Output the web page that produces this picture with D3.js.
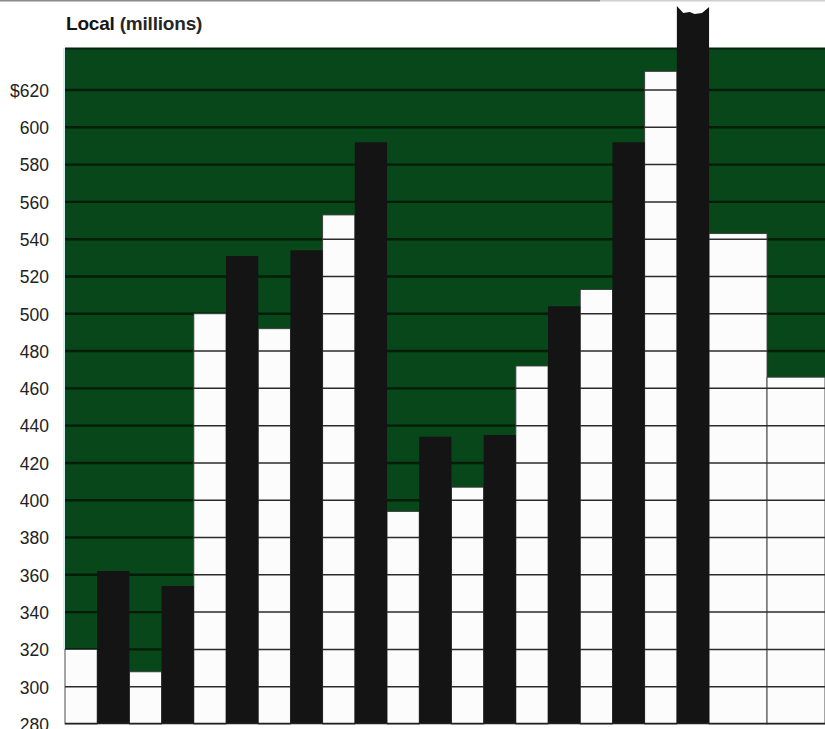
<!DOCTYPE html>
<html>
<head>
<meta charset="utf-8">
<script src="https://cdn.jsdelivr.net/npm/d3@7/dist/d3.min.js"></script>
<style>
  html, body { margin: 0; padding: 0; background: #fff; }
  svg { display: block; }
  text { font-family: "Liberation Sans", Arial, Helvetica, sans-serif; }
</style>
</head>
<body>
<svg id="chart" width="825" height="729"></svg>
<script>
// Twelve periods; the first ten pair a white bar with a black bar.
const periods = ["P1","P2","P3","P4","P5","P6","P7","P8","P9","P10","P11","P12"];
const whiteValues = [320, 308, 500, 492, 553, 394, 407, 472, 513, 630, 543, 466];
const blackValues = [362, 354, 531, 534, 592, 434, 435, 504, 592, 665, null, null];
const brokenBar = "P10";            // black bar that runs off the top of the scale
const tickValues = d3.range(280, 621, 20);
const title = ["Local", " (millions)"];

const svg = d3.select("#chart");
const W = 825, H = 729;
const plot = { left: 65, right: 825, top: 48 };

// Slot layout: a paired period takes two unit slots, a single one a wider slot.
const singleWidth = 1.8;
const slots = [];
let pos = 0;
periods.forEach((p, i) => {
  if (blackValues[i] != null) {
    slots.push({ period: p, kind: "white", value: whiteValues[i], x0: pos, x1: pos + 1 });
    slots.push({ period: p, kind: "black", value: blackValues[i], x0: pos + 1, x1: pos + 2 });
    pos += 2;
  } else {
    slots.push({ period: p, kind: "white", value: whiteValues[i], x0: pos, x1: pos + singleWidth });
    pos += singleWidth;
  }
});

const x = d3.scaleLinear().domain([0, pos]).range([plot.left, plot.right]);
const y = d3.scaleLinear().domain([280, 620]).range([724, 90]);
const baseY = y(280);

// faint rule along the top edge of the page
svg.append("line").attr("x1", 0).attr("x2", 600).attr("y1", 0.8).attr("y2", 0.8)
  .attr("stroke", "#8a8a8a").attr("stroke-width", 1.6);
svg.append("line").attr("x1", 600).attr("x2", W).attr("y1", 0.8).attr("y2", 0.8)
  .attr("stroke", "#cfcfcf").attr("stroke-width", 1.6);

// title
const t = svg.append("text").attr("x", 66).attr("y", 29.5)
  .attr("font-size", 19).attr("font-weight", "bold").attr("fill", "#141414")
  .attr("letter-spacing", "-0.2");
t.append("tspan").text(title[0]);
t.append("tspan").text(title[1]).attr("fill", "#262626");

// green plot field
svg.append("rect")
  .attr("x", plot.left).attr("y", plot.top)
  .attr("width", plot.right - plot.left).attr("height", baseY - plot.top)
  .attr("fill", "#08471a");
svg.append("line").attr("x1", plot.left).attr("x2", plot.right)
  .attr("y1", plot.top + 0.5).attr("y2", plot.top + 0.5)
  .attr("stroke", "#04240c").attr("stroke-width", 2);
svg.append("line").attr("x1", plot.left - 1).attr("x2", plot.left - 1)
  .attr("y1", plot.top).attr("y2", y(320))
  .attr("stroke", "#d6f0f2").attr("stroke-width", 2);

// grid lines on the green field
const gridVals = tickValues.filter(v => v > 280);
svg.append("g").selectAll("line").data(gridVals).join("line")
  .attr("x1", plot.left).attr("x2", plot.right)
  .attr("y1", d => y(d)).attr("y2", d => y(d))
  .attr("stroke", "#031d09").attr("stroke-width", 2.4);

// white bars
const whites = slots.filter(s => s.kind === "white");
svg.append("g").selectAll("rect").data(whites).join("rect")
  .attr("x", d => x(d.x0)).attr("y", d => y(d.value))
  .attr("width", d => x(d.x1) - x(d.x0)).attr("height", d => baseY - y(d.value))
  .attr("fill", "#fcfcfc").attr("stroke", "#3a3a3a").attr("stroke-width", 0.9);

// grid lines crossing the white bars
const gWhiteGrid = svg.append("g");
whites.forEach(d => {
  gWhiteGrid.selectAll(null).data(gridVals.filter(v => v < d.value)).join("line")
    .attr("x1", x(d.x0)).attr("x2", x(d.x1))
    .attr("y1", v => y(v)).attr("y2", v => y(v))
    .attr("stroke", "#2b2b2b").attr("stroke-width", 1.5);
});

// black bars; the broken one gets a torn top
const blacks = slots.filter(s => s.kind === "black");
svg.append("g").selectAll("path").data(blacks).join("path")
  .attr("fill", "#141414")
  .attr("d", d => {
    const x0 = x(d.x0), x1 = x(d.x1), top = y(d.value), w = x1 - x0;
    if (d.period !== brokenBar) {
      return `M${x0},${baseY}V${top}H${x1}V${baseY}Z`;
    }
    return `M${x0},${baseY}V${top}` +
      `L${x0 + w * 0.2},${top + 7}` +
      `L${x0 + w * 0.4},${top + 6}` +
      `L${x0 + w * 0.55},${top + 8}` +
      `L${x0 + w * 0.78},${top + 7}` +
      `L${x1},${top + 1}V${baseY}Z`;
  });

// baseline
svg.append("line").attr("x1", plot.left).attr("x2", plot.right)
  .attr("y1", baseY - 0.5).attr("y2", baseY - 0.5)
  .attr("stroke", "#222").attr("stroke-width", 1.6);

// y-axis labels
const axis = d3.axisLeft(y).tickValues(tickValues)
  .tickSize(0).tickPadding(0)
  .tickFormat(d => d === 620 ? "$" + d : String(d));
const gAxis = svg.append("g").attr("transform", "translate(49,0)").call(axis);
gAxis.select(".domain").remove();
gAxis.selectAll("text")
  .attr("font-family", "'Liberation Sans', Arial, sans-serif")
  .attr("font-size", 17.5).attr("fill", "#222").attr("dy", "0.36em");
</script>
</body>
</html>
